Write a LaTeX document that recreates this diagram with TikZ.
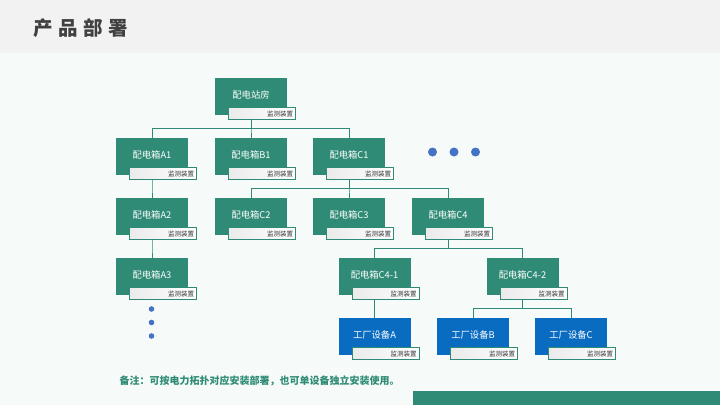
\documentclass[tikz,border=0pt]{standalone}
\usepackage{fontspec}
\setmainfont{Noto Sans CJK SC}
\newfontfamily\titlefont[LetterSpace=28]{Noto Sans CJK SC}
\usetikzlibrary{backgrounds}
\definecolor{deploygreen}{RGB}{47,139,117}
\definecolor{deployblue}{RGB}{10,108,192}
\definecolor{dotblue}{RGB}{68,114,196}
\definecolor{pagebg}{RGB}{246,251,249}
\definecolor{headbg}{RGB}{242,242,242}

\begin{document}
\begin{tikzpicture}[x=1pt, y=-1pt,
	boxnode/.style={rectangle, minimum width=72pt, minimum height=37pt, inner sep=0pt, text=white, font=\fontsize{9.3}{10}\selectfont},
	monbox/.style={rectangle, draw=deploygreen, line width=0.8pt, left color=black!8, right color=white, minimum width=67pt, minimum height=12pt, inner sep=1.5pt, text width=62pt, align=right, text=black!80, font=\fontsize{6.5}{7}\selectfont},
	link/.style={draw=deploygreen, line width=0.8pt}]
	\useasboundingbox (0,0) rectangle (720,405);
	\begin{scope}[on background layer]
		\fill[pagebg] (0,0) rectangle (720,405);
		\fill[headbg] (0,0) rectangle (720,53);
		\fill[deploygreen] (413,391) rectangle (720,405);
	\end{scope}
	\node[anchor=west, text=black!75, font=\titlefont\bfseries\fontsize{19.5}{21}\selectfont] (title) at (30,28) {产品部署};
	% boxes: name / x / y / label / colour
	\foreach \n/\x/\y/\t/\c in {st/251/96.5/配电站房/deploygreen,
		a1/152/156.5/配电箱A1/deploygreen, b1/251/156.5/配电箱B1/deploygreen, c1/349/156.5/配电箱C1/deploygreen,
		a2/152/216.5/配电箱A2/deploygreen, c2/251/216.5/配电箱C2/deploygreen, c3/349/216.5/配电箱C3/deploygreen, c4/448/216.5/配电箱C4/deploygreen,
		a3/152/276.5/配电箱A3/deploygreen, c41/374.5/276.5/配电箱C4-1/deploygreen, c42/522.5/276.5/配电箱C4-2/deploygreen,
		fa/374.5/336.5/工厂设备A/deployblue, fb/473/336.5/工厂设备B/deployblue, fc/571/336.5/工厂设备C/deployblue}{
		\node[boxnode, fill=\c] (\n) at (\x,\y) {\raisebox{3pt}{\t}};
		\node[monbox, anchor=north west] (\n-m) at ([xshift=13.5pt, yshift=8pt]\n.south west) {监测装置};
	}
	% topology lines
	\begin{scope}[on background layer]
		\foreach \p/\q in {st/a1, st/b1, st/c1, a1/a2, a2/a3, c1/c2, c1/c3, c1/c4, c4/c41, c4/c42, c41/fa, c42/fb, c42/fc}
			\draw[link] (\p.south) -- ++(0,13) -| (\q.north);
	\end{scope}
	% more boxes
	\foreach \x in {432.5, 454, 475.5}
		\fill[dotblue] (\x,152) circle (4.5);
	\foreach \y in {309, 322.5, 336}
		\fill[dotblue] (151.5,\y) circle (2.8);
	\node[anchor=west, text=deploygreen, font=\bfseries\fontsize{10}{12}\selectfont] (note) at (116,381) {备注：可按电力拓扑对应安装部署，也可单设备独立安装使用。};
\end{tikzpicture}
\end{document}
